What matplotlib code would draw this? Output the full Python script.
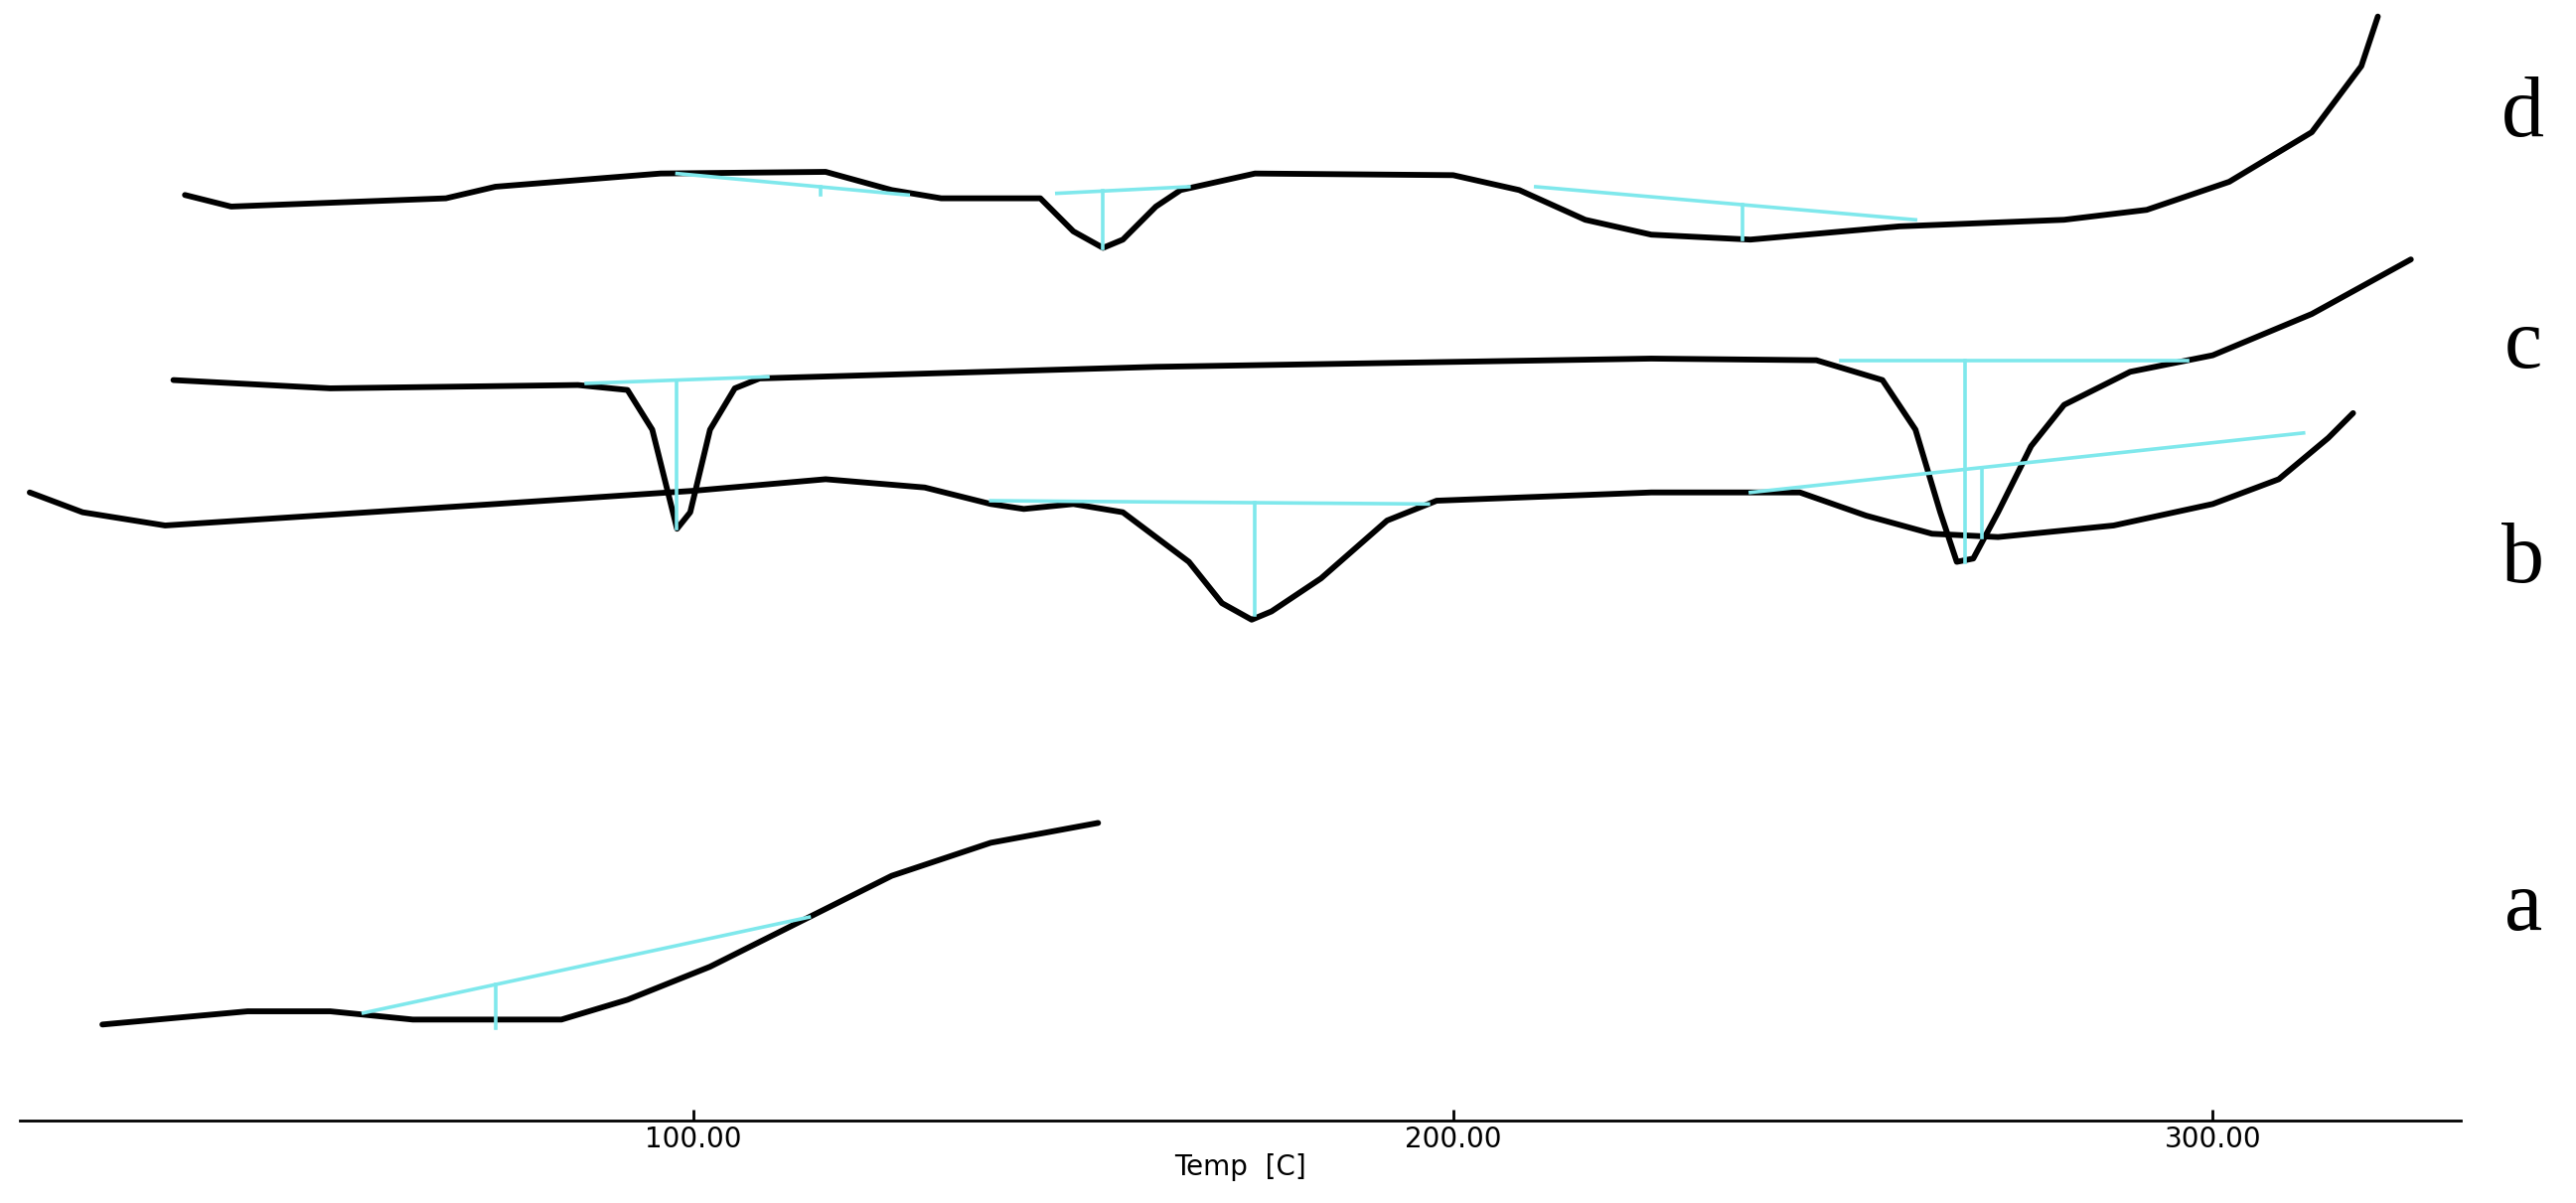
import matplotlib
matplotlib.use('Agg')
import matplotlib.pyplot as plt

# traces: x in pixel columns, y in pixel rows (top = 0)
d_x = [112, 140, 270, 300, 400, 500, 540, 570, 630, 650, 668, 680, 700, 715, 760, 880, 920, 960, 1000, 1060, 1150, 1250, 1300, 1350, 1400, 1430, 1440]
d_y = [118, 125, 120, 113, 105, 104, 115, 120, 120, 140, 150, 145, 125, 115, 105, 106, 115, 133, 142, 145, 137, 133, 127, 110, 80, 40, 10]
c_x = [105, 200, 350, 380, 395, 405, 410, 418, 430, 445, 460, 700, 1000, 1100, 1140, 1160, 1175, 1185, 1195, 1210, 1230, 1250, 1290, 1340, 1400, 1460]
c_y = [230, 235, 233, 236, 260, 300, 320, 310, 260, 235, 229, 222, 217, 218, 230, 260, 310, 340, 338, 310, 270, 245, 225, 215, 190, 157]
b_x = [18, 50, 100, 300, 420, 500, 560, 600, 620, 650, 680, 720, 740, 758, 770, 800, 840, 870, 1000, 1090, 1130, 1170, 1210, 1280, 1340, 1380, 1410, 1425]
b_y = [298, 310, 318, 305, 297, 290, 295, 305, 308, 305, 310, 340, 365, 375, 370, 350, 315, 303, 298, 298, 312, 323, 325, 318, 305, 290, 265, 250]
a_x = [62, 150, 200, 250, 340, 380, 430, 480, 540, 600, 665]
a_y = [620, 612, 612, 617, 617, 605, 585, 560, 530, 510, 498]

# cyan baselines: (x0, y0, x1, y1, drop_x, drop_y)
baselines = [
    (410, 105, 550, 118, 497, 118),
    (640, 117, 720, 113, 668, 150),
    (930, 113, 1160, 133, 1055, 145),
    (355, 232, 465, 228, 410, 320),
    (1115, 218, 1325, 218, 1190, 340),
    (600, 303, 865, 305, 760, 372),
    (1060, 298, 1395, 262, 1200, 325),
    (220, 613, 490, 555, 300, 622),
]

labels = ['d', 'c', 'b', 'a']
label_y = [70, 210, 340, 550]
ticks = [100, 200, 300]


def temp(x):
    return 100 + (x - 420) / 4.6


fig = plt.figure(figsize=(25.93, 12.11), dpi=100)
ax = fig.add_axes([12 / 1560, 1 - 678 / 728, 1478 / 1560, 678 / 728])
ax.set_xlim(temp(12), temp(1490))
ax.set_ylim(678, 0)

for xs, ys in [(d_x, d_y), (c_x, c_y), (b_x, b_y), (a_x, a_y)]:
    ax.plot([temp(x) for x in xs], ys, color='black', lw=4.2, solid_joinstyle='round',
            solid_capstyle='round', zorder=2)

for x0, y0, x1, y1, dx, dy in baselines:
    ax.plot([temp(x0), temp(x1)], [y0, y1], color='#7fe8ec', lw=2.6, zorder=3)
    yb = y0 + (y1 - y0) * (dx - x0) / (x1 - x0)
    ax.plot([temp(dx), temp(dx)], [yb, dy], color='#7fe8ec', lw=2.6, zorder=3)

for lab, ly in zip(labels, label_y):
    ax.text(temp(1528), ly, lab, fontsize=62, family='Liberation Serif', ha='center', va='center', clip_on=False)

for s in ['top', 'right', 'left']:
    ax.spines[s].set_visible(False)
ax.spines['bottom'].set_linewidth(2)
ax.set_yticks([])
ax.set_xticks(ticks)
ax.set_xticklabels(['%.2f' % t for t in ticks], fontsize=20)
ax.tick_params(axis='x', direction='in', length=8, width=2, pad=4)
ax.set_xlabel('Temp  [C]', fontsize=20, labelpad=0)

fig.savefig('out.png', dpi=100)
